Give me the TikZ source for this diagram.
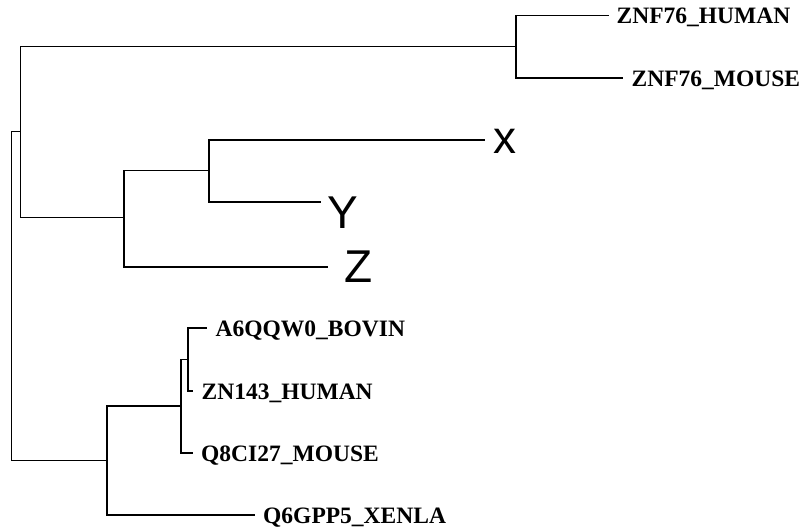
\documentclass[tikz,border=0pt]{standalone}
\usepackage{fontspec}
\setmainfont{Liberation Serif}
\newfontfamily\bigsans{Liberation Sans}
\begin{document}
\begin{tikzpicture}[x=1pt,y=-1pt,
  branch/.style={line width=1.3pt,black},
  leaflab/.style={anchor=base west,inner sep=0pt,font=\fontsize{23.5}{24}\selectfont\bfseries},
  biglab/.style={anchor=base west,inner sep=0pt,font=\fontsize{46}{48}\bigsans}]
\useasboundingbox (0,0) rectangle (801,531);
% internal nodes
\coordinate (root) at (11.7,296);
\coordinate (A) at (20.7,131.5);
\coordinate (B) at (107,460.5);
\coordinate (C) at (516,46.5);
\coordinate (D) at (124,217.5);
\coordinate (E) at (209,170.5);
\coordinate (F) at (181,406);
\coordinate (G) at (188,359.5);
% leaf ends
\coordinate (lZH) at (609,15.5);
\coordinate (lZM) at (623,78);
\coordinate (lX) at (485,140);
\coordinate (lY) at (321,202);
\coordinate (lZ) at (328,267);
\coordinate (lA6) at (207,328);
\coordinate (lZN) at (193,391);
\coordinate (lQ8) at (193,453);
\coordinate (lQ6) at (255,515);
% labels
\node[leaflab] (tZH) at (616.5,23.5) {ZNF76\_HUMAN};
\node[leaflab] (tZM) at (631.5,86) {ZNF76\_MOUSE};
\node[leaflab] (tA6) at (215.5,336) {A6QQW0\_BOVIN};
\node[leaflab] (tZN) at (201.5,399) {ZN143\_HUMAN};
\node[leaflab] (tQ8) at (201,461) {Q8CI27\_MOUSE};
\node[leaflab] (tQ6) at (263,523) {Q6GPP5\_XENLA};
\node[biglab] (tX) at (493.5,153) {x};
\node[biglab] (tY) at (327.5,228) {Y};
\node[biglab] (tZ) at (344,282) {Z};
% branches
\draw[branch] (root) |- (A);
\draw[branch] (root) |- (B);
\draw[branch] (A) |- (C);
\draw[branch] (A) |- (D);
\draw[branch] (C) |- (lZH);
\draw[branch] (C) |- (lZM);
\draw[branch] (D) |- (E);
\draw[branch] (D) |- (lZ);
\draw[branch] (E) |- (lX);
\draw[branch] (E) |- (lY);
\draw[branch] (B) |- (F);
\draw[branch] (B) |- (lQ6);
\draw[branch] (F) |- (G);
\draw[branch] (F) |- (lQ8);
\draw[branch] (G) |- (lA6);
\draw[branch] (G) |- (lZN);
\end{tikzpicture}
\end{document}
